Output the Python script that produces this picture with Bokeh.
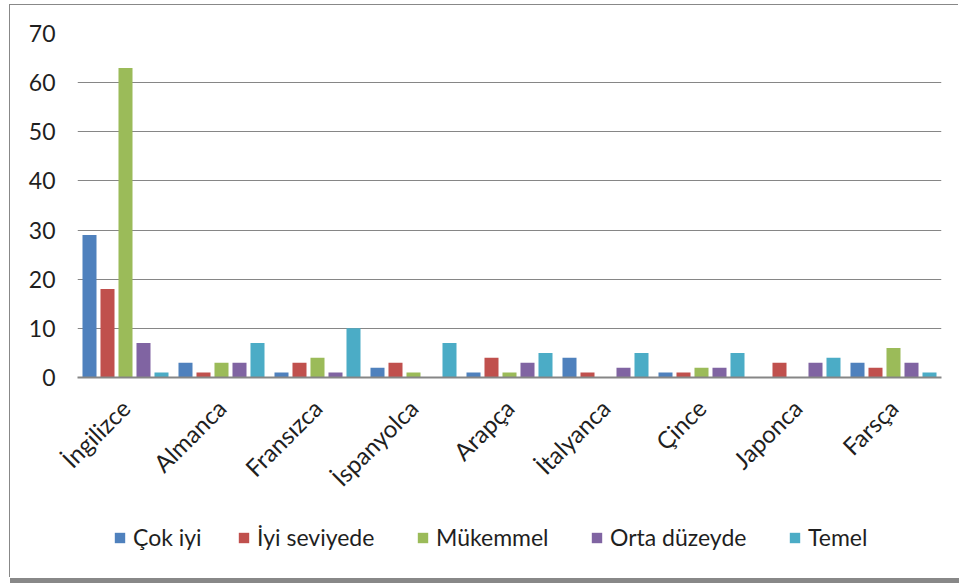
from math import pi
from bokeh.plotting import figure
from bokeh.layouts import column
from bokeh.models import ColumnDataSource, Legend, LegendItem, FixedTicker
from bokeh.transform import dodge
from bokeh.embed import file_html
from bokeh.resources import INLINE

languages = ["İngilizce", "Almanca", "Fransızca", "İspanyolca", "Arapça",
             "İtalyanca", "Çince", "Japonca", "Farsça"]
series_names = ["Çok iyi", "İyi seviyede", "Mükemmel", "Orta düzeyde", "Temel"]
cok_iyi = [29, 3, 1, 2, 1, 4, 1, 0, 3]
iyi_seviyede = [18, 1, 3, 3, 4, 1, 1, 3, 2]
mukemmel = [63, 3, 4, 1, 1, 0, 2, 0, 6]
orta_duzeyde = [7, 3, 1, 0, 3, 2, 2, 3, 3]
temel = [1, 7, 10, 7, 5, 5, 5, 4, 1]
y_ticks = [0, 10, 20, 30, 40, 50, 60, 70]

colors = ["#4F81BD", "#C0504D", "#9BBB59", "#8064A2", "#4BACC6"]
keys = ["s0", "s1", "s2", "s3", "s4"]

source = ColumnDataSource(dict(lang=languages, s0=cok_iyi, s1=iyi_seviyede,
                               s2=mukemmel, s3=orta_duzeyde, s4=temel))

FONT = "Lato"
TXT = "#1f1f1f"

p = figure(x_range=languages, y_range=(0, 70),
           frame_width=864, frame_height=344,
           output_backend="svg", toolbar_location=None,
           min_border_left=67, min_border_right=18, min_border_top=28,
           min_border_bottom=130)

offsets = [-0.375, -0.1875, 0.0, 0.1875, 0.375]
for k, off, c in zip(keys, offsets, colors):
    p.vbar(x=dodge("lang", off, range=p.x_range), top=k, width=0.146,
           source=source, fill_color=c, line_color=None)

p.x_range.range_padding = 0
p.xgrid.grid_line_color = None
p.ygrid.grid_line_color = "#868686"
p.ygrid.grid_line_width = 1
p.yaxis.ticker = FixedTicker(ticks=y_ticks)
p.yaxis.axis_line_color = None
p.yaxis.major_tick_line_color = None
p.yaxis.minor_tick_line_color = None
p.yaxis.major_label_text_font = FONT
p.yaxis.major_label_text_font_size = "23px"
p.yaxis.major_label_text_color = TXT
p.yaxis.major_label_standoff = 16

p.xaxis.axis_line_color = "#868686"
p.xaxis.axis_line_width = 2
p.xaxis.major_tick_line_color = None
p.xaxis.minor_tick_line_color = None
p.xaxis.major_label_orientation = pi / 4
p.xaxis.major_label_text_font = FONT
p.xaxis.major_label_text_font_size = "24px"
p.xaxis.major_label_text_color = TXT
p.xaxis.major_label_standoff = 20
p.outline_line_color = None

# legend strip (frame is aligned with the chart's frame by the column layout)
p2 = figure(width=949, height=71, x_range=(0, 1), y_range=(0, 1),
            x_axis_type=None, y_axis_type=None, min_border=0,
            output_backend="svg", toolbar_location=None)
p2.outline_line_color = None
p2.grid.visible = False

legend_x = [36, 160, 339, 513, 711]
for name, c, lx in zip(series_names, colors, legend_x):
    dummy = p2.vbar(x=[0.5], top=[0], bottom=[0], width=0.0, fill_color=c,
                    line_color=None)
    leg = Legend(items=[LegendItem(label=name, renderers=[dummy])],
                 location=(lx, 27), orientation="horizontal",
                 label_text_font=FONT, label_text_font_size="23px",
                 label_text_color=TXT, glyph_width=13, glyph_height=13,
                 label_standoff=7, border_line_color=None,
                 background_fill_alpha=0, margin=0, padding=0)
    p2.add_layout(leg)

layout = column(p, p2, spacing=0,
                styles={"margin-left": "10px", "margin-top": "5px",
                        "box-shadow": "-1px -1px 0 0 #888888, 0 5px 0 0 #888888"})

open("out.html", "w").write(file_html(layout, INLINE))
